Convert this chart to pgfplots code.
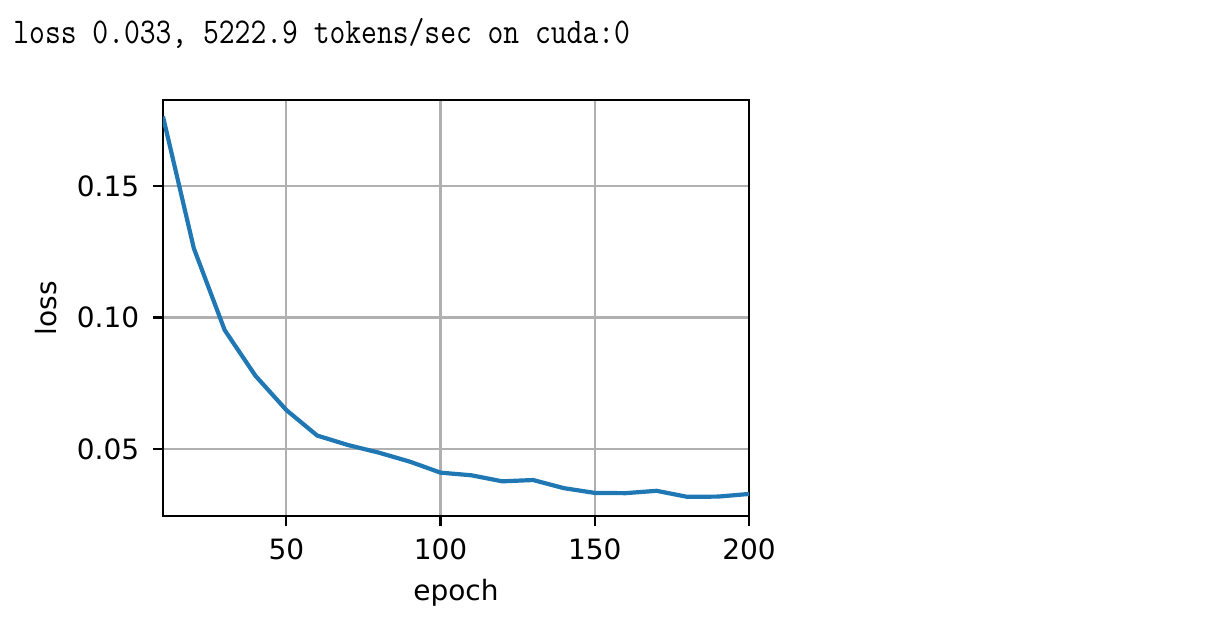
\documentclass[border=0pt]{standalone}
\usepackage{fontspec}
\setmainfont{DejaVu Sans}
\newfontfamily\monofont{Latin Modern Mono}
\usepackage{graphicx}
\usepackage{pgfplots}
\pgfplotsset{compat=1.18}
\definecolor{mplblue}{HTML}{1F77B4}
\definecolor{gridgray}{HTML}{B0B0B0}
\begin{document}
\begin{tikzpicture}
\useasboundingbox (0,0) rectangle (603.5pt,-320.5pt);
\node[anchor=base west, inner sep=0pt, font=\monofont\fontsize{15.35pt}{17pt}\selectfont] at (6.5pt,-21.7pt) {\scalebox{1}[1.18]{loss 0.033, 5222.9 tokens/sec on cuda:0}};
\begin{axis}[
  at={(81.5pt,-258pt)}, anchor=south west,
  width=293pt, height=208pt, scale only axis,
  xmin=10, xmax=200, ymin=0.02452, ymax=0.1827,
  xtick={50,100,150,200},
  ytick={0.05,0.10,0.15},
  yticklabels={0.05,0.10,0.15},
  /pgf/number format/assume math mode=true,
  font=\fontsize{14pt}{16pt}\selectfont,
  tick label style={font=\fontsize{14pt}{16pt}\selectfont},
  xticklabel style={yshift=-3pt},
  yticklabel style={xshift=-3.5pt},
  tick align=outside, major tick length=4.9pt,
  every tick/.style={black, line width=1.1pt},
  xtick pos=bottom, ytick pos=left,
  axis line style={line width=1.1pt},
  grid=major, major grid style={gridgray, line width=1.1pt},
  xlabel={epoch}, ylabel={loss},
  xlabel style={at={(axis description cs:0.5,-0.202)}, anchor=base},
  ylabel style={at={(axis description cs:-0.181,0.5)}, anchor=base, rotate=0},
]
\addplot[mplblue, line width=2.1pt] coordinates {
(10,0.1764) (20,0.1263) (30,0.0952) (40,0.0778) (50,0.0648)
(60,0.0551) (70,0.0515) (80,0.0486) (90,0.0452) (100,0.0410)
(110,0.0400) (120,0.0377) (130,0.0382) (140,0.0351) (150,0.0333)
(160,0.0332) (170,0.0341) (180,0.0318) (190,0.0319) (200,0.0329)
};
\end{axis}
\end{tikzpicture}
\end{document}
